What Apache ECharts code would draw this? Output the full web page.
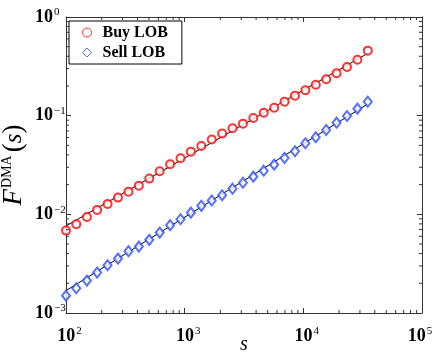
<!DOCTYPE html>
<html>
<head>
<meta charset="utf-8">
<script src="https://cdn.jsdelivr.net/npm/echarts@6/dist/echarts.min.js"></script>
<style>
  html, body { margin: 0; padding: 0; background: #fff; }
  #chart { width: 436px; height: 354px; }
</style>
</head>
<body>
<div id="chart"></div>
<script>
// window sizes s (log-spaced)
const sVals = [100, 122, 150, 183, 224, 274, 336, 411, 503, 616, 754, 922, 1128, 1381, 1690,
  2068, 2531, 3097, 3790, 4638, 5676, 6946, 8500, 10402, 12729, 15577, 19063, 23328, 28548, 34935];

const buyF = [0.00684, 0.00794, 0.00941, 0.01109, 0.01275, 0.01477, 0.01698, 0.01953, 0.02301, 0.02733,
  0.0322, 0.0370, 0.0432, 0.0493, 0.0573, 0.0658, 0.0745, 0.0830, 0.0948, 0.1072,
  0.1205, 0.1387, 0.1596, 0.1809, 0.2061, 0.2338, 0.2691, 0.3114, 0.369, 0.456];

const sellF = [0.00150, 0.00178, 0.00213, 0.00257, 0.00305, 0.00356, 0.00423, 0.00471, 0.00551, 0.00653,
  0.00776, 0.00892, 0.0104, 0.0122, 0.0138, 0.0156, 0.0182, 0.0209, 0.0241, 0.0277,
  0.0319, 0.0373, 0.0436, 0.0525, 0.0604, 0.0716, 0.0849, 0.0993, 0.1178, 0.1386];

// power-law fit lines (end points)
const fitS = [100, 34935];
const buyFit = [0.00763, 0.4285];
const sellFit = [0.001686, 0.1314];

const xRange = [1e2, 1e5];
const yRange = [1e-3, 1];

// minor tick positions (2..9 x 10^k)
const xMinor = [];
for (let k = 2; k < 5; k++) for (let m = 2; m <= 9; m++) xMinor.push(m * Math.pow(10, k));
const yMinor = [];
for (let k = -3; k < 0; k++) for (let m = 2; m <= 9; m++) yMinor.push(+(m * Math.pow(10, k)).toPrecision(3));

const serif = '"Liberation Serif", "DejaVu Serif", serif';
const axisColor = '#333';
const buyColor = '#ff0000';
const sellColor = '#2a4bff';

const chart = echarts.init(document.getElementById('chart'));

function expText(v) {
  const e = Math.round(Math.log10(v));
  return '{b|10}{sup|' + (e < 0 ? '\u2212' + (-e) : e) + '}';
}
// x labels: keep "10" centred on the tick, last one pulled inside the figure
function xLabel(v) {
  if (v >= xRange[1] * 0.999) return expText(v) + '{pad| }';
  return '{padL| }' + expText(v);
}
const richLbl = {
  b: { fontFamily: serif, fontWeight: 'bold', fontSize: 18, color: '#000', lineHeight: 20 },
  sup: { fontFamily: serif, fontSize: 11, color: '#000', verticalAlign: 'top', lineHeight: 11, padding: [0, 0, 0, 1] },
  padL: { width: 7, fontSize: 10 },
  pad: { width: 4, fontSize: 10 }
};

const baseAxis = {
  type: 'log',
  logBase: 10,
  nameMoveOverlap: false,
  axisLine: { show: true, lineStyle: { color: axisColor, width: 1 } },
  axisTick: { show: true, inside: true, length: 5, lineStyle: { color: axisColor } },
  splitLine: { show: false }
};

const option = {
  backgroundColor: '#fff',
  animation: false,
  grid: { left: 66, right: 14, top: 17, bottom: 41, containLabel: false, outerBoundsMode: 'none' },
  legend: {
    left: 69, top: 21,
    orient: 'vertical',
    data: [
      { name: 'Buy LOB', icon: 'circle', itemStyle: { color: '#fff', borderColor: buyColor, borderWidth: 1 } },
      { name: 'Sell LOB', icon: 'diamond', itemStyle: { color: '#fff', borderColor: sellColor, borderWidth: 1 } }
    ],
    backgroundColor: '#fff',
    borderColor: '#000',
    borderWidth: 1,
    borderRadius: 0,
    padding: [3, 14, 3, 13],
    itemGap: 3,
    itemWidth: 9,
    itemHeight: 9,
    textStyle: { fontFamily: serif, fontWeight: 'bold', fontSize: 16, color: '#000', lineHeight: 17, padding: [0, 0, 0, 6] }
  },
  xAxis: [
    Object.assign({}, baseAxis, {
      min: xRange[0], max: xRange[1],
      position: 'bottom',
      name: 's',
      nameLocation: 'middle',
      nameGap: 22,
      nameTextStyle: { fontFamily: serif, fontStyle: 'italic', fontSize: 20, color: '#000' },
      axisLabel: { margin: 13, formatter: xLabel, rich: richLbl }
    }),
    Object.assign({}, baseAxis, {
      min: xRange[0], max: xRange[1],
      position: 'top',
      axisLabel: { show: false }
    })
  ],
  yAxis: [
    Object.assign({}, baseAxis, {
      min: yRange[0], max: yRange[1],
      position: 'left',
      name: '{f|F}{sup|DMA}{p|(}{s|s}{p|)}',
      nameLocation: 'middle',
      nameRotate: 90,
      nameGap: 38,
      nameTextStyle: {
        rich: {
          f: { fontFamily: serif, fontStyle: 'italic', fontSize: 27, color: '#000', lineHeight: 28 },
          sup: { fontFamily: serif, fontSize: 14, color: '#000', verticalAlign: 'top', lineHeight: 14, padding: [0, 3, 0, 1] },
          p: { fontFamily: serif, fontSize: 27, color: '#000', lineHeight: 28 },
          s: { fontFamily: serif, fontStyle: 'italic', fontSize: 25, color: '#000', lineHeight: 28 }
        }
      },
      axisLabel: { margin: 31, align: 'left', formatter: expText, rich: richLbl }
    }),
    Object.assign({}, baseAxis, {
      min: yRange[0], max: yRange[1],
      position: 'right',
      axisLabel: { show: false }
    })
  ],
  series: [
    {
      name: 'Buy fit', type: 'line',
      data: fitS.map((s, i) => [s, buyFit[i]]),
      showSymbol: false, symbol: 'none',
      lineStyle: { color: '#000', width: 1 }, z: 2, silent: true
    },
    {
      name: 'Sell fit', type: 'line',
      data: fitS.map((s, i) => [s, sellFit[i]]),
      showSymbol: false, symbol: 'none',
      lineStyle: { color: '#000', width: 1 }, z: 2, silent: true
    },
    {
      name: 'Buy LOB', type: 'scatter',
      data: sVals.map((s, i) => [s, buyF[i]]),
      symbol: 'emptyCircle', symbolSize: 8,
      itemStyle: { color: buyColor, borderColor: buyColor, borderWidth: 1 },
      z: 3
    },
    {
      name: 'Sell LOB', type: 'scatter',
      data: sVals.map((s, i) => [s, sellF[i]]),
      symbol: 'emptyDiamond', symbolSize: [8, 10],
      itemStyle: { color: sellColor, borderColor: sellColor, borderWidth: 1 },
      z: 3
    },
    {
      // minor ticks on x axes
      type: 'custom', silent: true, z: 5,
      data: xMinor.map(v => [v, yRange[0]]),
      renderItem: function (params, api) {
        const v = api.value(0);
        const b = api.coord([v, yRange[0]]);
        const t = api.coord([v, yRange[1]]);
        const st = { stroke: axisColor, lineWidth: 1 };
        return {
          type: 'group', children: [
            { type: 'line', shape: { x1: b[0], y1: b[1], x2: b[0], y2: b[1] - 3 }, style: st },
            { type: 'line', shape: { x1: t[0], y1: t[1], x2: t[0], y2: t[1] + 3 }, style: st }
          ]
        };
      }
    },
    {
      // minor ticks on y axes
      type: 'custom', silent: true, z: 5,
      data: yMinor.map(v => [xRange[0], v]),
      renderItem: function (params, api) {
        const v = api.value(1);
        const l = api.coord([xRange[0], v]);
        const r = api.coord([xRange[1], v]);
        const st = { stroke: axisColor, lineWidth: 1 };
        return {
          type: 'group', children: [
            { type: 'line', shape: { x1: l[0], y1: l[1], x2: l[0] + 3, y2: l[1] }, style: st },
            { type: 'line', shape: { x1: r[0], y1: r[1], x2: r[0] - 3, y2: r[1] }, style: st }
          ]
        };
      }
    }
  ]
};

chart.setOption(option);
</script>
</body>
</html>
